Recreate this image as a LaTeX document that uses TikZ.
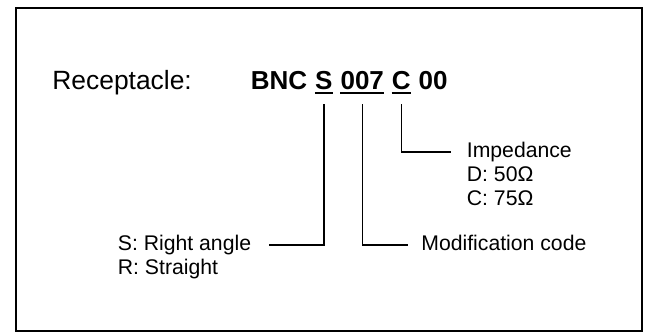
\documentclass[tikz,border=0pt]{standalone}
\usepackage{fontspec}
\setmainfont{Liberation Sans}
\usetikzlibrary{positioning}

\begin{document}
\begin{tikzpicture}[
    x=0.5pt, y=-0.5pt,
    title/.style={inner sep=0pt, anchor=base west, font=\fontsize{13.2}{15.8}\selectfont},
    code/.style={inner sep=0pt, font=\fontsize{13}{15.6}\selectfont\bfseries},
    note/.style={inner sep=0pt, anchor=base west, font=\fontsize{10.6}{12.7}\selectfont},
    uline/.style={line width=1pt},
    lead/.style={line width=0.75pt}
]
    % Frame
    \useasboundingbox (0,0) rectangle (648,333);
    \draw[line width=1pt] (16,8) rectangle (642,331);

    % Part number
    \node[title] (rec) at (52,89) {Receptacle:};
    \node[code, anchor=base west] (bnc) at (250.5,89) {BNC};
    \node[code, base right=3.6pt of bnc] (s) {S};
    \node[code, base right=3.6pt of s] (mod) {007};
    \node[code, base right=3.6pt of mod] (imp) {C};
    \node[code, base right=3.6pt of imp] (tail) {00};

    % Underlines
    \draw[uline] ([yshift=-2pt]s.base west) -- ([yshift=-2pt]s.base east);
    \draw[uline] ([yshift=-2pt]mod.base west) -- ([yshift=-2pt]mod.base east);
    \draw[uline] ([yshift=-2pt]imp.base west) -- ([yshift=-2pt]imp.base east);

    % Labels
    \node[note] (sra) at (117.5,250.5) {S: Right angle};
    \node[note] (rst) at (117.5,274.5) {R: Straight};
    \node[note] (modcode) at (421,250.5) {Modification code};
    \node[note] (impd) at (466.5,157.5) {Impedance};
    \node[note] (d50) at (466.5,181.5) {D: 50Ω};
    \node[note] (c75) at (466.5,205.5) {C: 75Ω};

    % Leaders
    \draw[lead, shorten >=9pt] (s.base) ++(0,15) |- (sra.mid east);
    \draw[lead, shorten >=6.5pt] (mod.base) ++(0,15) |- (modcode.mid west);
    \draw[lead, shorten >=8pt] (imp.base) ++(0,15) |- (impd.mid west);
\end{tikzpicture}
\end{document}
